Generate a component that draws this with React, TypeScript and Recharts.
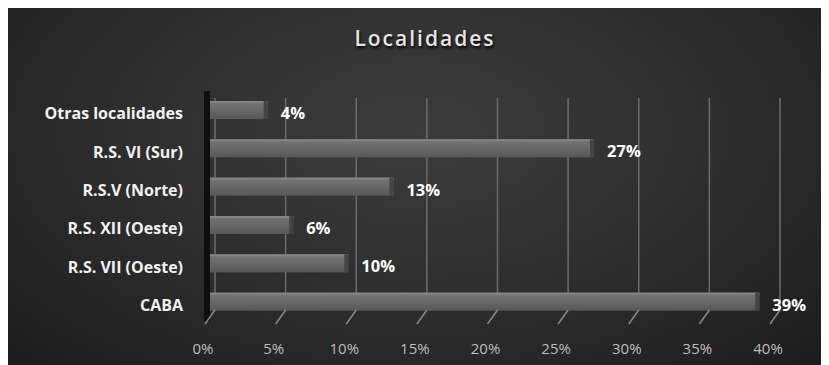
import { Bar, BarChart, CartesianGrid, LabelList, XAxis, YAxis } from "recharts";

const localidades = [
  "Otras localidades",
  "R.S. VI (Sur)",
  "R.S.V (Norte)",
  "R.S. XII (Oeste)",
  "R.S. VII (Oeste)",
  "CABA",
];
const porcentajes = [4.3, 27.4, 13.2, 6.1, 10.0, 39.1];
const xTicks = [0, 5, 10, 15, 20, 25, 30, 35, 40];

const data = localidades.map((nombre, i) => ({ nombre, valor: porcentajes[i] }));

const FONT = "'Open Sans', sans-serif";

const XTick = (props: any) => {
  const { x, y, payload } = props;
  return (
    <g>
      <line x1={x + 8} y1={y - 11} x2={x - 2} y2={y + 3} stroke="#8a8a8a" strokeWidth={1.5} />
      <text x={x - 4} y={y + 33} textAnchor="middle" fill="#bdbdbd" fontSize={15} fontFamily={FONT}>
        {payload.value}%
      </text>
    </g>
  );
};

const YTick = (props: any) => {
  const { x, y, payload } = props;
  return (
    <text x={x - 24} y={y + 9} textAnchor="end" fill="#f2f2f2" fontSize={16} fontWeight="bold" fontFamily={FONT}>
      {payload.value}
    </text>
  );
};

const BarShape = (props: any) => {
  const { x, y, width, height } = props;
  if (!width || width <= 0) return null;
  return (
    <g>
      <rect x={x} y={y} width={width} height={height} fill="url(#barFill)" />
      <rect x={x} y={y} width={width} height={2} fill="#848484" />
      <rect x={x + width - 4} y={y} width={4} height={height} fill="#444444" />
    </g>
  );
};

const ValueLabel = (props: any) => {
  const { x, y, width, height, value } = props;
  return (
    <text
      x={x + width + 13}
      y={y + height / 2 + 9}
      fill="#ffffff"
      fontSize={16.5}
      fontWeight="bold"
      fontFamily={FONT}
    >
      {Math.round(value)}%
    </text>
  );
};

export default function App() {
  return (
    <div
      style={{
        width: 818,
        height: 357,
        position: "relative",
        background: "radial-gradient(ellipse at 50% 35%, #3c3c3c 0%, #2e2e2e 50%, #1c1c1c 100%)",
      }}
    >
      <div
        style={{
          position: "absolute",
          top: 16,
          left: 0,
          width: 834,
          textAlign: "center",
          fontFamily: FONT,
          fontSize: 21,
          fontWeight: 600,
          letterSpacing: 2,
          color: "#e6e6e6",
          textShadow: "1px 2px 3px #000",
        }}
      >
        Localidades
      </div>
      <BarChart
        layout="vertical"
        width={818}
        height={357}
        data={data}
        margin={{ top: 83, right: 54, bottom: 4, left: 0 }}
        style={{ position: "absolute", top: 0, left: 0 }}
      >
        <defs>
          <linearGradient id="barFill" x1="0" y1="0" x2="0" y2="1">
            <stop offset="0%" stopColor="#767676" />
            <stop offset="50%" stopColor="#686868" />
            <stop offset="100%" stopColor="#585858" />
          </linearGradient>
        </defs>
        <CartesianGrid
          horizontal={false}
          y={90}
          height={212}
          stroke="#6c6c6c"
          strokeWidth={1.5}
          verticalCoordinatesGenerator={({ offset }: any) =>
            xTicks.map((t) => offset.left + (t / 40) * offset.width + 8)
          }
        />
        <XAxis
          type="number"
          domain={[0, 40]}
          ticks={xTicks}
          tick={<XTick />}
          axisLine={false}
          tickLine={false}
          tickSize={0}
          tickMargin={0}
          height={40}
          interval={0}
        />
        <YAxis
          type="category"
          dataKey="nombre"
          width={199}
          tick={<YTick />}
          tickLine={false}
          tickSize={0}
          tickMargin={0}
          axisLine={{ stroke: "#0e0e0e", strokeWidth: 6 }}
          interval={0}
        />
        <Bar dataKey="valor" barSize={18} shape={<BarShape />} isAnimationActive={false}>
          <LabelList dataKey="valor" content={<ValueLabel />} />
        </Bar>
      </BarChart>
    </div>
  );
}
